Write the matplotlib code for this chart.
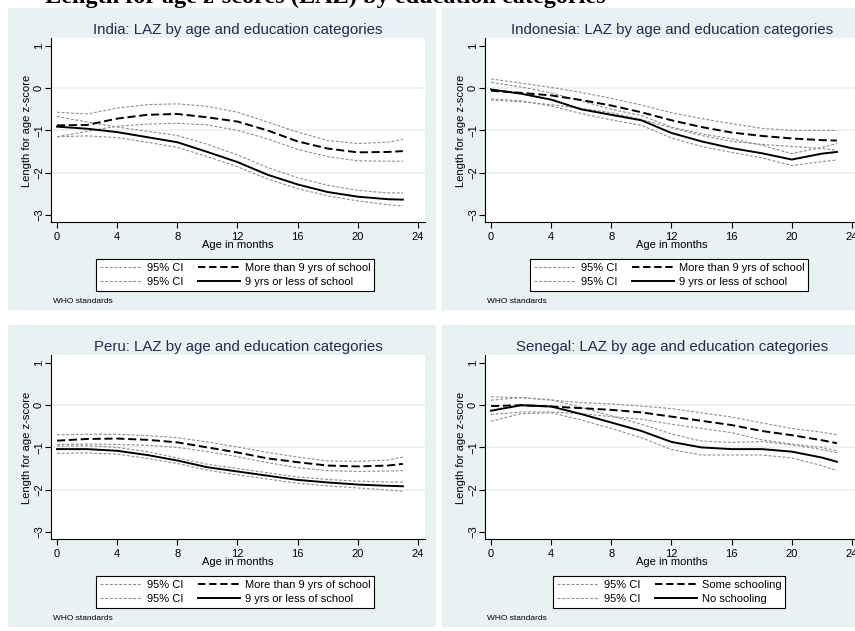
import matplotlib
matplotlib.use("Agg")
import matplotlib.pyplot as plt
from matplotlib.patches import Rectangle
from matplotlib.lines import Line2D

plt.rcParams['font.family'] = ['Liberation Sans', 'DejaVu Sans']

W, H = 855, 631

# months at which the smoothed curves were read
months = [0, 2, 4, 6, 8, 10, 12, 14, 16, 18, 20, 22, 23]

# India
india_more = [-0.88, -0.87, -0.72, -0.63, -0.61, -0.69, -0.79, -1.00, -1.26, -1.43, -1.52, -1.51, -1.49]
india_less = [-0.91, -0.96, -1.04, -1.16, -1.28, -1.51, -1.75, -2.05, -2.28, -2.46, -2.57, -2.63, -2.64]
india_more_hi = [-0.57, -0.61, -0.47, -0.39, -0.37, -0.43, -0.57, -0.80, -1.04, -1.24, -1.31, -1.28, -1.21]
india_more_lo = [-1.15, -1.02, -0.90, -0.85, -0.83, -0.87, -1.00, -1.20, -1.45, -1.62, -1.72, -1.73, -1.73]
india_less_hi = [-0.67, -0.80, -0.92, -1.02, -1.12, -1.33, -1.58, -1.88, -2.12, -2.30, -2.42, -2.48, -2.48]
india_less_lo = [-1.15, -1.13, -1.17, -1.28, -1.40, -1.62, -1.86, -2.15, -2.38, -2.55, -2.67, -2.76, -2.79]

# Indonesia
indo_more = [-0.06, -0.11, -0.17, -0.28, -0.41, -0.57, -0.76, -0.92, -1.05, -1.13, -1.19, -1.23, -1.24]
indo_less = [-0.03, -0.13, -0.27, -0.50, -0.63, -0.76, -1.06, -1.26, -1.42, -1.54, -1.69, -1.55, -1.51]
indo_more_hi = [0.22, 0.12, 0.02, -0.10, -0.24, -0.40, -0.58, -0.72, -0.84, -0.95, -1.00, -1.00, -1.00]
indo_more_lo = [-0.28, -0.32, -0.39, -0.48, -0.58, -0.74, -0.94, -1.12, -1.26, -1.33, -1.38, -1.43, -1.47]
indo_less_hi = [0.14, 0.03, -0.11, -0.30, -0.50, -0.65, -0.92, -1.08, -1.20, -1.35, -1.55, -1.40, -1.31]
indo_less_lo = [-0.25, -0.30, -0.42, -0.60, -0.75, -0.88, -1.18, -1.38, -1.52, -1.65, -1.83, -1.74, -1.70]

# Peru
peru_more = [-0.84, -0.80, -0.79, -0.82, -0.88, -1.00, -1.12, -1.26, -1.35, -1.43, -1.45, -1.43, -1.39]
peru_less = [-1.04, -1.04, -1.08, -1.18, -1.31, -1.47, -1.57, -1.67, -1.77, -1.83, -1.88, -1.91, -1.92]
peru_more_hi = [-0.70, -0.69, -0.69, -0.72, -0.77, -0.87, -0.99, -1.12, -1.23, -1.32, -1.33, -1.30, -1.23]
peru_more_lo = [-0.93, -0.92, -0.93, -0.95, -1.00, -1.10, -1.22, -1.36, -1.48, -1.55, -1.57, -1.56, -1.55]
peru_less_hi = [-0.97, -0.96, -1.00, -1.10, -1.25, -1.40, -1.50, -1.60, -1.70, -1.76, -1.80, -1.82, -1.82]
peru_less_lo = [-1.14, -1.13, -1.16, -1.26, -1.38, -1.54, -1.65, -1.75, -1.85, -1.91, -1.96, -2.01, -2.04]

# Senegal
sen_some = [-0.02, 0.00, -0.03, -0.07, -0.11, -0.17, -0.27, -0.37, -0.47, -0.61, -0.71, -0.83, -0.90]
sen_none = [-0.13, 0.00, -0.03, -0.21, -0.41, -0.61, -0.87, -1.00, -1.04, -1.04, -1.10, -1.24, -1.34]
sen_some_hi = [0.20, 0.18, 0.12, 0.06, 0.03, -0.02, -0.08, -0.18, -0.28, -0.42, -0.55, -0.64, -0.70]
sen_some_lo = [-0.22, -0.16, -0.16, -0.20, -0.27, -0.33, -0.45, -0.55, -0.65, -0.82, -0.92, -1.00, -1.08]
sen_none_hi = [0.12, 0.18, 0.13, -0.05, -0.25, -0.45, -0.68, -0.85, -0.88, -0.86, -0.94, -1.05, -1.13]
sen_none_lo = [-0.38, -0.20, -0.18, -0.35, -0.55, -0.77, -1.05, -1.18, -1.18, -1.18, -1.25, -1.43, -1.55]

panels = [
    ("India", india_more, india_less, india_more_hi, india_more_lo, india_less_hi, india_less_lo,
     "More than 9 yrs of school", "9 yrs or less of school"),
    ("Indonesia", indo_more, indo_less, indo_more_hi, indo_more_lo, indo_less_hi, indo_less_lo,
     "More than 9 yrs of school", "9 yrs or less of school"),
    ("Peru", peru_more, peru_less, peru_more_hi, peru_more_lo, peru_less_hi, peru_less_lo,
     "More than 9 yrs of school", "9 yrs or less of school"),
    ("Senegal", sen_some, sen_none, sen_some_hi, sen_some_lo, sen_none_hi, sen_none_lo,
     "Some schooling", "No schooling"),
]
offsets = [(0, 0), (434, 0), (0, 317), (434, 317)]

bg = "#eaf1f3"
title_col = "#1f2d4d"
ci_col = "#8e8e8e"


def fx(x):
    return x / W


def fy(y):
    return 1 - y / H


fig = plt.figure(figsize=(W / 100, H / 100), dpi=100)

# overall heading, cut off at the top edge as in the source image
fig.text(fx(45), fy(7.5), "Length for age z-scores (LAZ) by education categories",
         family=['Liberation Serif', 'DejaVu Serif'], weight='bold', fontsize=17.5,
         ha='left', va='bottom')

for (name, more, less, more_hi, more_lo, less_hi, less_lo, lab_more, lab_less), (ox, oy) in zip(panels, offsets):
    fig.patches.append(Rectangle((fx(ox + 8), fy(oy + 309)), fx(427), 301 / H,
                                 transform=fig.transFigure, color=bg, zorder=-1))
    ax = fig.add_axes([fx(ox + 51), fy(oy + 222), fx(374), 184 / H])
    ax.set_zorder(1)
    ax.set_facecolor("white")
    ax.set_xlim(-0.4, 24.47)
    ax.set_ylim(-3.17, 1.19)
    for yv in [0, -1, -2]:
        ax.axhline(yv, color=bg, lw=1.2, zorder=1)

    ax.plot(months, more_hi, color=ci_col, lw=0.8, dashes=(2.6, 1.6), zorder=2)
    ax.plot(months, more_lo, color=ci_col, lw=0.8, dashes=(2.6, 1.6), zorder=2)
    ax.plot(months, less_hi, color=ci_col, lw=0.8, dashes=(2.6, 1.6), zorder=2)
    ax.plot(months, less_lo, color=ci_col, lw=0.8, dashes=(2.6, 1.6), zorder=2)
    ax.plot(months, more, color="black", lw=1.4, dashes=(4.2, 1.9), zorder=3)
    ax.plot(months, less, color="black", lw=1.4, zorder=3)

    for s in ["top", "right"]:
        ax.spines[s].set_visible(False)
    for s in ["left", "bottom"]:
        ax.spines[s].set_linewidth(0.8)
    ax.set_xticks([0, 4, 8, 12, 16, 20, 24])
    ax.set_yticks([-3, -2, -1, 0, 1])
    ax.tick_params(direction="out", length=4, width=0.8, labelsize=8, pad=3)
    ax.tick_params(axis="y", pad=1)
    for t in ax.get_yticklabels():
        t.set_rotation(90)
        t.set_va("center")

    fig.text(fx(ox + 238), fy(oy + 30), f"{name}: LAZ by age and education categories",
             ha="center", va="center", fontsize=10.8, color=title_col)
    fig.text(fx(ox + 238), fy(oy + 245), "Age in months", ha="center", va="center", fontsize=8)
    fig.text(fx(ox + 27), fy(oy + 131), "Length for age z-score", ha="center", va="center",
             rotation=90, fontsize=8)
    fig.text(fx(ox + 53), fy(oy + 302), "WHO standards", ha="left", va="center", fontsize=6)

    handles = [
        Line2D([], [], color=ci_col, lw=0.8, dashes=(2.6, 1.6)),
        Line2D([], [], color=ci_col, lw=0.8, dashes=(2.6, 1.6)),
        Line2D([], [], color="black", lw=1.4, dashes=(3.8, 1.9)),
        Line2D([], [], color="black", lw=1.4),
    ]
    leg = ax.legend(handles, ["95% CI", "95% CI", lab_more, lab_less], ncol=2,
                    loc="center", bbox_to_anchor=(fx(ox + 235), fy(oy + 275)),
                    bbox_transform=fig.transFigure, fontsize=8, frameon=True,
                    fancybox=False, framealpha=1, edgecolor="black",
                    handlelength=3.8, handletextpad=0.45, columnspacing=1.3,
                    borderpad=0.35, labelspacing=0.35)
    leg.get_frame().set_linewidth(0.8)

fig.savefig("out.png", dpi=100)
